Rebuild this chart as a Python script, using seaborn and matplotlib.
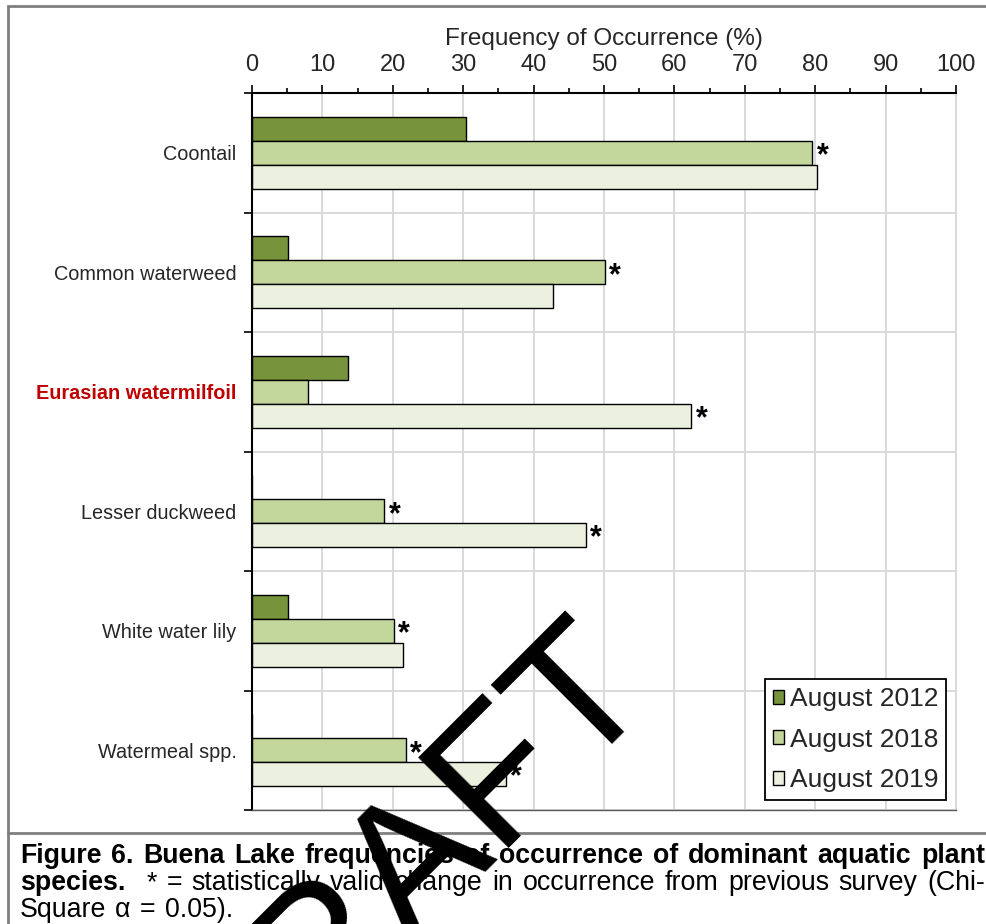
import numpy as np
import pandas as pd
import matplotlib
matplotlib.use("Agg")
import matplotlib.pyplot as plt
import seaborn as sns
from matplotlib.patches import Rectangle
from matplotlib.lines import Line2D

# ---- data -------------------------------------------------------------
species = ["Coontail", "Common waterweed", "Eurasian watermilfoil",
           "Lesser duckweed", "White water lily", "Watermeal spp."]
surveys = ["August 2012", "August 2018", "August 2019"]
freq_2012 = [30.4, 5.1, 13.6, 0.0, 5.1, 0.0]
freq_2018 = [79.6, 50.1, 7.9, 18.8, 20.2, 21.9]
freq_2019 = [80.3, 42.7, 62.4, 47.4, 21.4, 36.1]
# statistically valid change from the previous survey
sig_2012 = [False] * 6
sig_2018 = [True, True, False, True, True, True]
sig_2019 = [False, False, True, True, False, True]
x_ticks = list(range(0, 101, 10))
colors = ["#77933C", "#C3D69B", "#EBF1DE"]

df = pd.DataFrame({
    "Species": species * 3,
    "Survey": np.repeat(surveys, len(species)),
    "Frequency": freq_2012 + freq_2018 + freq_2019,
})

sns.set_theme(style="white")
plt.rcParams["font.family"] = ["Liberation Sans", "DejaVu Sans"]

W, H = 986, 924
fig = plt.figure(figsize=(W / 100, H / 100), dpi=100, facecolor="white")
ax = fig.add_axes([252 / W, 1 - 810 / H, 704 / W, 717 / H])

sns.barplot(data=df, y="Species", x="Frequency", hue="Survey",
            order=species, hue_order=surveys, palette=colors,
            orient="h", width=0.6, saturation=1, errorbar=None,
            edgecolor="black", linewidth=1.0, ax=ax)

# asterisks for significant changes
flags = [sig_2012, sig_2018, sig_2019]
for cont, flag in zip(ax.containers, flags):
    for bar, f in zip(cont, flag):
        if f:
            ax.text(bar.get_width() + 0.6, bar.get_y() + bar.get_height() / 2 + 0.03,
                    "*", fontsize=22, fontweight="bold", ha="left", va="center",
                    color="black")

ax.set_xlim(0, 100)
ax.set_ylim(len(species) - 0.5, -0.5)
ax.xaxis.tick_top()
ax.xaxis.set_label_position("top")
ax.set_xticks(x_ticks)
ax.set_xticks(np.arange(5, 100, 10), minor=True)
ax.set_xlabel("Frequency of Occurrence (%)", fontsize=17.5, labelpad=7)
ax.set_ylabel("")
ax.tick_params(axis="x", which="major", direction="out", length=6, width=1.2,
               color="black", labelsize=17, pad=6, top=True, bottom=False,
               labeltop=True, labelbottom=False)
ax.tick_params(axis="x", which="minor", direction="out", length=3.5, width=1.2,
               color="black", top=True, bottom=False)

ax.set_yticks(np.arange(len(species)))
ax.set_yticklabels(species)
ax.set_yticks(np.arange(-0.5, len(species), 1), minor=True)
ax.tick_params(axis="y", which="major", length=0, pad=11, labelsize=14.3)
ax.tick_params(axis="y", which="minor", direction="out", length=6, width=1.2,
               color="black", left=True)
for lbl in ax.get_yticklabels():
    if lbl.get_text() == "Eurasian watermilfoil":
        lbl.set_color("#C00000")
        lbl.set_fontweight("bold")

ax.grid(axis="x", which="major", color="#D9D9D9", lw=1.4)
ax.grid(axis="y", which="minor", color="#D9D9D9", lw=1.4)
ax.grid(axis="y", which="major", visible=False)
ax.set_axisbelow(True)

for side in ("top", "left"):
    ax.spines[side].set_color("black")
    ax.spines[side].set_linewidth(1.5)
ax.spines["bottom"].set_color("#595959")
ax.spines["bottom"].set_linewidth(1.0)
ax.spines["right"].set_color("#D9D9D9")
ax.spines["right"].set_linewidth(1.4)

handles, labels = ax.get_legend_handles_labels()
leg = ax.legend(handles, labels, loc="lower right", bbox_to_anchor=(0.986, 0.014),
                fontsize=19, frameon=True, fancybox=False, edgecolor="black",
                framealpha=1, handlelength=0.45, handleheight=0.45,
                handletextpad=0.2, labelspacing=0.62, borderpad=0.3,
                borderaxespad=0)
leg.get_frame().set_linewidth(1.3)
for h in leg.legend_handles:
    h.set_edgecolor("black")
    h.set_linewidth(1.0)

# ---- frame around chart and caption ---------------------------------------
fig.add_artist(Rectangle((8 / W, -0.1), 1.2, (1 - 6 / H) + 0.1,
                         transform=fig.transFigure, fill=False,
                         edgecolor="#7F7F7F", lw=2))
fig.add_artist(Line2D([8 / W, 1], [1 - 833 / H] * 2, transform=fig.transFigure,
                      color="#7F7F7F", lw=2))

# ---- caption (justified lines) -------------------------------------------
renderer = fig.canvas.get_renderer()


def caption_line(words, y_px, justify=True, gap_units=None, x0=20, x1=985,
                 size=19.3, space=None):
    texts = [fig.text(x0 / W, 1 - y_px / H, w, fontsize=size, fontweight=wt,
                      ha="left", va="baseline", color="black")
             for w, wt in words]
    widths = [t.get_window_extent(renderer).width for t in texts]
    if gap_units is None:
        gap_units = [1] * (len(words) - 1)
    if justify:
        unit = (x1 - x0 - sum(widths)) / sum(gap_units)
    else:
        unit = space if space is not None else 0.278 * size * 100 / 72
    x = x0
    for i, (t, w) in enumerate(zip(texts, widths)):
        t.set_x(x / W)
        if i < len(gap_units):
            x += w + unit * gap_units[i]


line1 = "Figure 6. Buena Lake frequencies of occurrence of dominant aquatic plant"
caption_line([(w, "bold") for w in line1.split()], 863)
line2 = "* = statistically valid change in occurrence from previous survey (Chi-"
words2 = [("species.", "bold")] + [(w, "normal") for w in line2.split()]
caption_line(words2, 890, gap_units=[2.2] + [1] * (len(words2) - 2))
caption_line([(w, "normal") for w in "Square α = 0.05).".split()], 917,
             justify=False, space=9)

# ---- watermark -------------------------------------------------------------
fig.text(655.5 / W, 1 - 685.5 / H, "DRAFT", rotation=45, rotation_mode="anchor",
         ha="right", va="baseline", fontsize=134, color="black", zorder=100)

fig.savefig("out.png", dpi=100, facecolor="white")
